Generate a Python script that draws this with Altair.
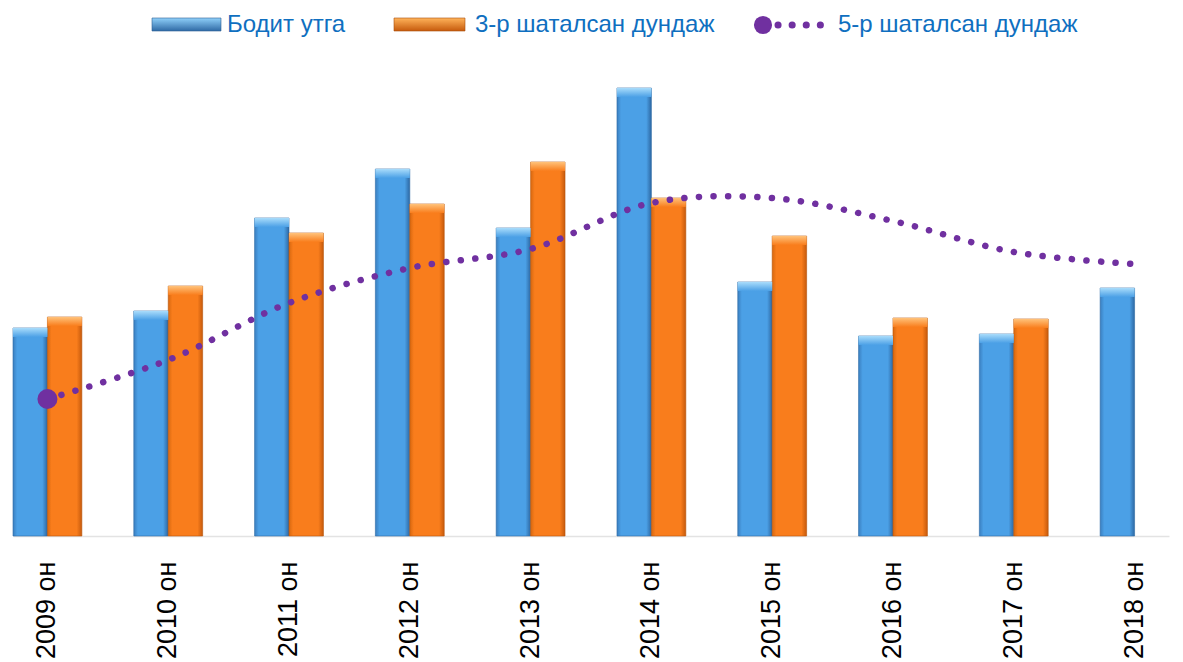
import altair as alt
import pandas as pd

years = ["2009 он", "2010 он", "2011 он", "2012 он", "2013 он",
         "2014 он", "2015 он", "2016 он", "2017 он", "2018 он"]
actual = [208, 225, 318, 367, 308, 448, 254, 200, 202, 248]
ma3 = [219, 250, 303, 332, 374, 338, 300, 218, 217, None]
ma5 = [137, 176, 233, 268, 287, 333, 338, 315, 284, 272]
series_names = ["Бодит утга", "3-р шаталсан дундаж"]
line_name = "5-р шаталсан дундаж"

rows = []
for yr, a, m in zip(years, actual, ma3):
    rows.append({"year": yr, "series": series_names[0], "value": a})
    if m is not None:
        rows.append({"year": yr, "series": series_names[1], "value": m})
bars_df = pd.DataFrame(rows)
line_df = pd.DataFrame({"year": years, "value": ma5})
first_df = line_df.iloc[[0]]
one = pd.DataFrame({"k": [0]})

PURPLE = "#7030a0"
TXT = "#0f6fc0"
FONT = "Liberation Sans"


def hgrad(edge1, mid, edge2):
    return {"gradient": "linear", "x1": 0, "y1": 0, "x2": 1, "y2": 0,
            "stops": [{"offset": 0, "color": edge1},
                      {"offset": 0.12, "color": mid},
                      {"offset": 0.5, "color": mid},
                      {"offset": 0.85, "color": mid},
                      {"offset": 1, "color": edge2}]}


def vgrad(top, bottom):
    return {"gradient": "linear", "x1": 0, "y1": 0, "x2": 0, "y2": 1,
            "stops": [{"offset": 0, "color": top},
                      {"offset": 1, "color": bottom}]}


blue_fill = hgrad("#3a7fc0", "#4ba0e6", "#2d68a3")
orange_fill = hgrad("#d8680f", "#f97d1c", "#c65a0c")
blue_cap = vgrad("#a9dcfb", "#4ba0e6")
orange_cap = vgrad("#ffc27a", "#f97d1c")

x_enc = alt.X(
    "year:N", sort=years, title=None,
    scale=alt.Scale(paddingInner=0.43, paddingOuter=0),
    axis=alt.Axis(labelAngle=-90, labelFontSize=27, labelFont=FONT,
                  labelColor="#000000", ticks=False, domainColor="#e3e3e3",
                  domainWidth=1.5, labelPadding=25, grid=False),
)
xo_enc = alt.XOffset("series:N", scale=alt.Scale(domain=series_names,
                                                 paddingInner=0, paddingOuter=0))
y_enc = alt.Y("value:Q", scale=alt.Scale(domain=[0, 500]), axis=None)

base = alt.Chart(bars_df).encode(x=x_enc, xOffset=xo_enc, y=y_enc)

blue_bars = base.transform_filter(alt.datum.series == series_names[0]).mark_bar(
    color=blue_fill, stroke="#2c6aa5", strokeWidth=0.6)
orange_bars = base.transform_filter(alt.datum.series == series_names[1]).mark_bar(
    color=orange_fill, stroke="#b9560c", strokeWidth=0.6)

blue_caps = alt.Chart(bars_df).transform_filter(
    alt.datum.series == series_names[0]).transform_calculate(
    top="datum.value - 9").mark_bar(color=blue_cap).encode(
    x=x_enc, xOffset=xo_enc, y=y_enc, y2="top:Q")
orange_caps = alt.Chart(bars_df).transform_filter(
    alt.datum.series == series_names[1]).transform_calculate(
    top="datum.value - 9").mark_bar(color=orange_cap).encode(
    x=x_enc, xOffset=xo_enc, y=y_enc, y2="top:Q")

line = alt.Chart(line_df).mark_line(
    color=PURPLE, strokeWidth=6.5, strokeCap="round", strokeDash=[0.1, 14.5],
    interpolate="catmull-rom").encode(x=x_enc, y=y_enc)
big_dot = alt.Chart(first_df).mark_circle(
    color=PURPLE, opacity=1, size=400).encode(x=x_enc, y=y_enc)

# legend
leg_y = -11
leg_blue = alt.Chart(one).mark_rect(color=vgrad("#8fd0fa", "#2f6aa5"),
                                    stroke="#2c5f95", strokeWidth=0.6).encode(
    x=alt.value(139), x2=alt.value(208), y=alt.value(-18), y2=alt.value(-5))
leg_orange = alt.Chart(one).mark_rect(color=vgrad("#ffb35a", "#c65a0c"),
                                      stroke="#a84d0a", strokeWidth=0.6).encode(
    x=alt.value(381), x2=alt.value(452), y=alt.value(-18), y2=alt.value(-5))
leg_dots = alt.Chart(one).mark_rule(color=PURPLE, strokeWidth=7, strokeCap="round",
                                    strokeDash=[0.1, 14]).encode(
    x=alt.value(765), x2=alt.value(808), y=alt.value(leg_y))
leg_circle = alt.Chart(one).mark_circle(color=PURPLE, opacity=1, size=330).encode(
    x=alt.value(750), y=alt.value(leg_y))


def leg_text(xpix, label):
    return alt.Chart(one).mark_text(align="left", baseline="middle", fontSize=24,
                                    font=FONT, color=TXT).encode(
        x=alt.value(xpix), y=alt.value(leg_y), text=alt.value(label))


chart = alt.layer(
    blue_bars, orange_bars, blue_caps, orange_caps, line, big_dot,
    leg_blue, leg_orange, leg_dots, leg_circle,
    leg_text(214, series_names[0]), leg_text(462, series_names[1]),
    leg_text(825, line_name),
).properties(
    width=1156, height=500,
    autosize=alt.AutoSizeParams(type="none"),
    padding={"left": 5, "top": 28, "right": 5, "bottom": 140},
    background="white",
).configure_view(stroke=None)

chart.save("out.html", embed_options={"renderer": "svg", "actions": False})
